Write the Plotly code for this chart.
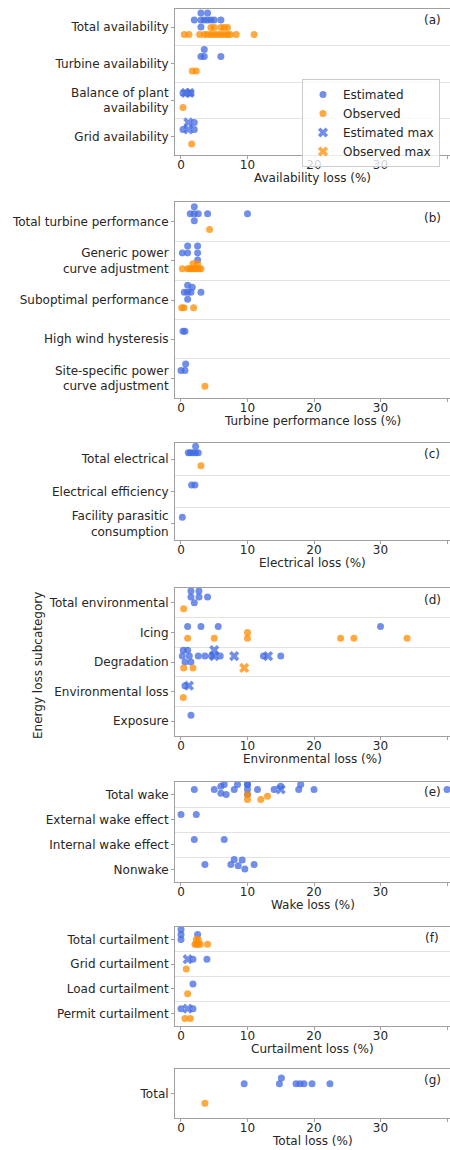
import numpy as np
import plotly.graph_objects as go

# ---------------- data (values in % loss) ----------------
a_cats = ["Total availability", "Turbine availability", "Balance of plant<br>availability", "Grid availability"]
a_est = [[2.0, 3.0, 3.0, 3.0, 3.5, 4.0, 4.0, 4.5, 5.0, 6.0], [3.0, 3.5, 3.5, 6.0], [0.3, 1.5], [0.3, 2.0, 2.0]]
a_obs = [[0.5, 1.2, 2.8, 3.5, 4.0, 4.5, 4.5, 5.0, 5.0, 5.5, 6.0, 6.0, 6.5, 6.5, 7.0, 7.0, 7.4, 8.3, 11.0],
         [1.7, 2.3], [0.3], [1.6]]
a_est_max = [[], [], [0.7, 1.3], [1.1, 1.1]]
a_obs_max = [[], [], [], []]

b_cats = ["Total turbine performance", "Generic power<br>curve adjustment", "Suboptimal performance",
          "High wind hysteresis", "Site-specific power<br>curve adjustment"]
b_est = [[1.4, 2.0, 2.0, 2.0, 2.6, 4.0, 10.0], [0.2, 1.0, 1.0, 2.5, 2.5, 2.5],
         [0.5, 1.0, 1.0, 1.0, 1.5, 1.7, 3.0], [0.3, 0.6], [0.0, 0.6, 0.7]]
b_obs = [[4.3], [0.2, 1.0, 1.3, 1.6, 1.8, 2.0, 2.3, 2.5, 2.7, 3.0], [0.1, 0.45, 1.9], [], [3.6]]
b_est_max = [[], [], [], [], []]
b_obs_max = [[], [], [], [], []]

c_cats = ["Total electrical", "Electrical efficiency", "Facility parasitic<br>consumption"]
c_est = [[1.1, 1.4, 1.8, 2.2, 2.2, 2.6], [1.6, 2.1], [0.2]]
c_obs = [[3.0], [], []]
c_est_max = [[], [], []]
c_obs_max = [[], [], []]

d_cats = ["Total environmental", "Icing", "Degradation", "Environmental loss", "Exposure"]
d_est = [[1.5, 1.5, 2.0, 2.7, 2.7, 4.0], [1.0, 3.0, 5.6, 30.0],
         [0.2, 0.35, 0.6, 1.0, 1.25, 1.5, 2.6, 3.6, 4.6, 5.9, 12.4, 15.0], [0.6], [1.5]]
d_obs = [[0.4], [1.0, 5.0, 10.0, 10.0, 24.0, 26.0, 34.0], [0.4, 1.8], [0.35], []]
d_est_max = [[], [], [5.0, 5.0, 8.0, 13.1], [1.2], []]
d_obs_max = [[], [], [9.5], [], []]

e_cats = ["Total wake", "External wake effect", "Internal wake effect", "Nonwake"]
e_est = [[2.0, 5.0, 6.0, 6.0, 6.5, 6.8, 8.0, 8.5, 10.0, 10.0, 10.0, 10.0, 11.5, 14.0, 15.0, 17.7, 18.0, 20.0, 40.0],
         [0.0, 2.3], [2.0, 6.5], [3.6, 7.5, 8.0, 8.6, 9.2, 9.6, 11.0]]
e_obs = [[10.0, 10.0, 12.0, 13.0], [], [], []]
e_est_max = [[15.0], [], [], []]
e_obs_max = [[], [], [], []]

f_cats = ["Total curtailment", "Grid curtailment", "Load curtailment", "Permit curtailment"]
f_est = [[0.0, 0.0, 0.0, 2.5], [1.8, 3.9], [1.8], [0.0, 1.8]]
f_obs = [[2.1, 2.3, 2.3, 2.6, 2.6, 2.9, 4.0], [0.8], [1.0], [0.6, 1.4]]
f_est_max = [[], [1.0], [], [1.0]]
f_obs_max = [[], [], [], []]

g_cats = ["Total"]
g_est = [[9.5, 14.8, 15.1, 17.3, 17.9, 18.5, 19.7, 22.4]]
g_obs = [[3.6]]
g_est_max = [[]]
g_obs_max = [[]]

x_titles = ["Availability loss (%)", "Turbine performance loss (%)", "Electrical loss (%)",
            "Environmental loss (%)", "Wake loss (%)", "Curtailment loss (%)", "Total loss (%)"]
tags = ["(a)", "(b)", "(c)", "(d)", "(e)", "(f)", "(g)"]
x_ticks = [0, 10, 20, 30, 40]

# ---------------- layout constants ----------------
FIG_W, FIG_H = 450, 1150
AX_L, AX_R = 175, 450
X_RANGE = [-0.9, 40.45]
PANEL_PX = [(9, 155), (202, 398), (443, 540), (588, 736), (782, 882), (927, 1026), (1069, 1118)]
TAG_DY = [11, 16, 11, 12, 10, 11, 11]
TITLE_DY = 23
BLUE, ORANGE = "#4169E1", "#FF8C00"
ALPHA = 0.75
DOT = 7
XSIZE = 9
FONT = "DejaVu Sans"
TXT = "#262626"
SPINE = "#a0a0a0"
GRID = "#e3e3e3"

panels = [
    (a_cats, a_est, a_obs, a_est_max, a_obs_max),
    (b_cats, b_est, b_obs, b_est_max, b_obs_max),
    (c_cats, c_est, c_obs, c_est_max, c_obs_max),
    (d_cats, d_est, d_obs, d_est_max, d_obs_max),
    (e_cats, e_est, e_obs, e_est_max, e_obs_max),
    (f_cats, f_est, f_obs, f_est_max, f_obs_max),
    (g_cats, g_est, g_obs, g_est_max, g_obs_max),
]


def swarm(values, scale, d, limit):
    """Beeswarm offsets (px, negative = up) for one category/hue group."""
    vals = np.asarray(values, dtype=float)
    offs = np.zeros(len(vals))
    placed = []
    for i in np.argsort(vals, kind="mergesort"):
        x = vals[i] * scale
        neigh = [(px, py) for px, py in placed if abs(px - x) < d]
        ups, downs = [], []
        for px, py in neigh:
            dy = np.sqrt(max(d * d - (px - x) ** 2, 0.0))
            ups.append(py - dy)
            downs.append(py + dy)
        cands = np.array([0.0] + ups + downs)
        cands = cands[np.argsort(np.round(np.abs(cands), 6), kind="mergesort")]
        chosen = cands[-1]
        for c in cands:
            if all((px - x) ** 2 + (py - c) ** 2 >= d * d - 1e-6 for px, py in neigh):
                chosen = c
                break
        placed.append((x, chosen))
        offs[i] = chosen
    return np.clip(offs, -limit, limit)


fig = go.Figure()
shown = set()
layout = dict()
annotations = []

STYLE = {
    "Estimated": dict(color=BLUE, symbol="circle", size=DOT, rank=1, dodge=-0.2),
    "Observed": dict(color=ORANGE, symbol="circle", size=DOT, rank=2, dodge=0.2),
    "Estimated max": dict(color=BLUE, symbol="x", size=XSIZE, rank=3, dodge=-0.2),
    "Observed max": dict(color=ORANGE, symbol="x", size=XSIZE, rank=4, dodge=0.2),
}

for k, (cats, est, obs, est_max, obs_max) in enumerate(panels):
    n = len(cats)
    top, bot = PANEL_PX[k]
    band = (bot - top) / n
    ax_w = AX_R - AX_L
    allv = [v for grp in (est, obs, est_max, obs_max) for lst in grp for v in lst]
    span = (max(allv) - min(allv)) * 1.1 or 1.0
    scale = ax_w / span
    xs = "x" if k == 0 else f"x{k + 1}"
    ys = "y" if k == 0 else f"y{k + 1}"

    groups = {"Estimated": est, "Observed": obs, "Estimated max": est_max, "Observed max": obs_max}
    for name, data in groups.items():
        st = STYLE[name]
        px_x, px_y = [], []
        for i in range(n):
            if not data[i]:
                continue
            offs = swarm(data[i], scale, DOT, 0.2 * band)
            for v, o in zip(data[i], offs):
                px_x.append(v)
                px_y.append(i + st["dodge"] + o / band)
        show = bool(px_x) and name not in shown
        if show:
            shown.add(name)
        fig.add_trace(go.Scatter(
            x=px_x, y=px_y, mode="markers", name=name, legendgroup=name,
            showlegend=show, legendrank=st["rank"], xaxis=xs, yaxis=ys,
            marker=dict(color=st["color"], symbol=st["symbol"], size=st["size"],
                        opacity=ALPHA, line=dict(width=0)),
            hoverinfo="x+name",
        ))

    xkey = "xaxis" if k == 0 else f"xaxis{k + 1}"
    ykey = "yaxis" if k == 0 else f"yaxis{k + 1}"
    layout[xkey] = dict(
        domain=[AX_L / FIG_W, AX_R / FIG_W], anchor=ys, range=X_RANGE,
        tickmode="array", tickvals=x_ticks, ticktext=[str(t) for t in x_ticks],
        ticks="outside", ticklen=3, tickcolor=SPINE, showline=True, linecolor=SPINE,
        linewidth=1, mirror=True, showgrid=False, zeroline=False, ticklabelstandoff=-4,
        tickfont=dict(family=FONT, size=12, color=TXT),
    )
    layout[ykey] = dict(
        domain=[1 - bot / FIG_H, 1 - top / FIG_H], anchor=xs, range=[n - 0.5, -0.5],
        tickmode="array", tickvals=list(range(n)), ticktext=cats,
        ticks="outside", ticklen=3, tickcolor=SPINE, showline=True, linecolor=SPINE,
        linewidth=1, mirror=False, showgrid=False, zeroline=False,
        tickfont=dict(family=FONT, size=12, color=TXT),
        minor=dict(tickmode="array", tickvals=[i + 0.5 for i in range(n - 1)],
                   showgrid=True, gridcolor=GRID, gridwidth=1, ticks=""),
    )
    annotations.append(dict(
        text=tags[k], xref="paper", yref="paper", x=432 / FIG_W, y=1 - (top + TAG_DY[k]) / FIG_H,
        xanchor="center", yanchor="middle", showarrow=False, borderpad=0,
        font=dict(family=FONT, size=12, color=TXT),
    ))
    annotations.append(dict(
        text=x_titles[k], xref="paper", yref="paper", x=(AX_L + AX_R) / 2 / FIG_W,
        y=1 - (bot + TITLE_DY) / FIG_H, xanchor="center", yanchor="middle", showarrow=False,
        borderpad=0, font=dict(family=FONT, size=12, color=TXT),
    ))

annotations.append(dict(
    text="Energy loss subcategory", xref="paper", yref="paper", x=38 / FIG_W, y=1 - 666 / FIG_H,
    textangle=-90, xanchor="center", yanchor="middle", showarrow=False, borderpad=0,
    font=dict(family=FONT, size=12, color=TXT),
))

fig.update_layout(
    **layout,
    width=FIG_W, height=FIG_H,
    margin=dict(l=0, r=0, t=0, b=0),
    paper_bgcolor="white", plot_bgcolor="white",
    font=dict(family=FONT, size=12, color=TXT),
    annotations=annotations,
    legend=dict(x=302 / FIG_W, y=1 - 79 / FIG_H, xanchor="left", yanchor="top",
                bgcolor="rgba(255,255,255,0.8)", bordercolor="#cccccc", borderwidth=1,
                font=dict(family=FONT, size=12, color=TXT), tracegroupgap=0),
)

fig.write_html(
    "out.html",
    config={"displayModeBar": False},
    post_script="document.body.style.margin='0';document.body.style.overflow='hidden';"
                "document.documentElement.style.overflow='hidden';",
)
